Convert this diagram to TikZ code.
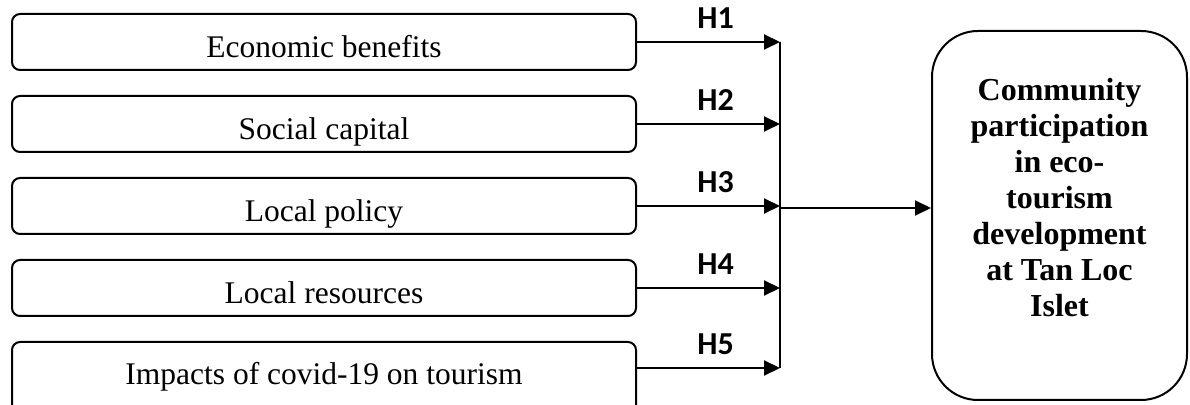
\documentclass[tikz,border=0pt]{standalone}
\usepackage{fontspec}
\setmainfont{Liberation Serif}
\newfontfamily\hfont{Carlito}
\usetikzlibrary{arrows.meta, positioning}
\tikzset{
  factor/.style ={rectangle, draw=black, line width=1pt, rounded corners=4pt,
                  minimum width=312pt, minimum height=28pt, inner ysep=0pt,
                  text height=20pt, text depth=4pt,
                  font=\fontsize{15.75}{18}\selectfont},
  outcome/.style={rectangle, draw=black, line width=1pt, rounded corners=23pt,
                  minimum width=127.5pt, minimum height=184.5pt, align=center,
                  text depth=18pt, font=\bfseries\fontsize{16}{18}\selectfont},
  hlab/.style   ={font=\hfont\bfseries\fontsize{16}{18}\selectfont,
                  anchor=base, yshift=6.5pt, inner sep=0pt},
  arr/.style    ={-{Triangle[length=8pt, width=7.5pt]}, line width=1pt}
}

\begin{document}
\begin{tikzpicture}[x=0.5pt, y=-0.5pt, node distance=12pt]
    \useasboundingbox (0,0) rectangle (1190,405);
    \node[factor] (econ) at (324,42) {Economic benefits};
    \node[factor, below=of econ] (social) {Social capital};
    \node[factor, below=of social] (policy) {Local policy};
    \node[factor, below=of policy] (resource) {Local resources};
    \node[factor, below=of resource, minimum height=36pt,
          text height=17pt, text depth=10pt] (covid) {Impacts of covid-19 on tourism};
    \node[outcome] (cbet) at (1059.5,215.5)
      {Community\\participation\\in eco-\\tourism\\development\\at Tan Loc\\Islet};
    % junction line
    \coordinate (spine) at (780,0);
    \coordinate (hub) at (780,208);
    \draw[arr] (econ.east) -- node[hlab, pos=.55] {H1} (econ.east -| spine);
    \draw[arr] (social.east) -- node[hlab, pos=.55] {H2} (social.east -| spine);
    \draw[arr] (policy.east) -- node[hlab, pos=.55] {H3} (policy.east -| spine);
    \draw[arr] (resource.east) -- node[hlab, pos=.55] {H4} (resource.east -| spine);
    \draw[arr] ([yshift=5pt]covid.east) -- node[hlab, pos=.55] {H5} ([yshift=5pt]covid.east -| spine);
    \draw[line width=1pt] (econ.east -| spine) -- ([yshift=5pt]covid.east -| spine);
    \draw[arr] (hub) -- (hub -| cbet.west);
  \end{tikzpicture}
\end{document}
